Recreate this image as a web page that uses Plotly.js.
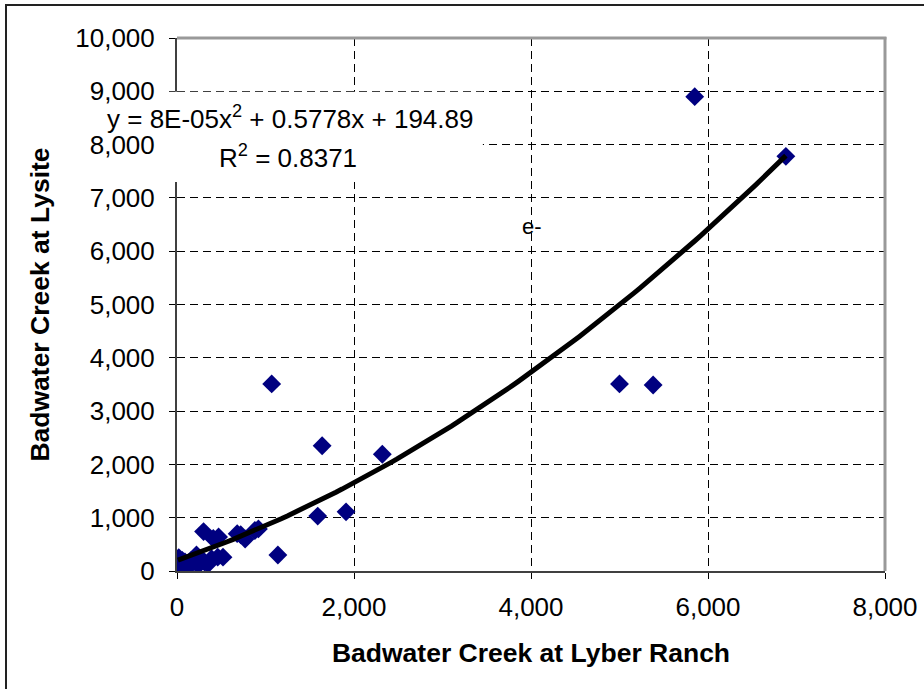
<!DOCTYPE html>
<html>
<head>
<meta charset="utf-8">
<script src="https://cdn.plot.ly/plotly-3.0.1.min.js"></script>
<style>
  html, body { margin: 0; padding: 0; overflow: hidden; background: #fff; }
  #chart { position: absolute; left: 0; top: 0; width: 924px; height: 689px; }
  #frame { position: absolute; left: 5px; top: 4px; width: 1000px; height: 1000px;
           border-left: 2px solid #222; border-top: 2px solid #222; pointer-events: none; }
</style>
</head>
<body>
<div id="chart"></div>
<div id="frame"></div>
<script>
// Badwater Creek at Lyber Ranch (x) vs Badwater Creek at Lysite (y)
const lyberRanch = [5850, 6880, 1070, 5000, 5380, 1640, 2320, 1590, 1910, 1140,
                    300, 410, 470, 680, 720, 770, 880, 920, 460, 390,
                    310, 220, 160, 90, 20, 10, 40, 100, 240, 350,
                    520, 60, 130, 200];
const lysite     = [8900, 7780, 3510, 3510, 3490, 2350, 2190, 1030, 1110, 300,
                    740, 610, 640, 700, 680, 600, 760, 790, 260, 230,
                    170, 300, 200, 170, 250, 60, 30, 110, 110, 130,
                    260, 200, 80, 250];

const xTickVals = [0, 2000, 4000, 6000, 8000];
const yTickVals = [0, 1000, 2000, 3000, 4000, 5000, 6000, 7000, 8000, 9000, 10000];

const equationText = "y = 8E-05x<sup>2</sup> + 0.5778x + 194.89";
const r2Text = "R<sup>2</sup> = 0.8371";
const strayText = "e-";

// Least-squares quadratic trendline fitted to the data
function quadFit(xs, ys) {
  let S = [0,0,0,0,0], T = [0,0,0];
  for (let i = 0; i < xs.length; i++) {
    const x = xs[i], y = ys[i];
    let p = 1;
    for (let k = 0; k < 5; k++) { S[k] += p; if (k < 3) T[k] += p * y; p *= x; }
  }
  const A = [[S[0],S[1],S[2],T[0]],[S[1],S[2],S[3],T[1]],[S[2],S[3],S[4],T[2]]];
  for (let i = 0; i < 3; i++) {
    for (let j = i + 1; j < 3; j++) {
      const f = A[j][i] / A[i][i];
      for (let k = i; k < 4; k++) A[j][k] -= f * A[i][k];
    }
  }
  const c = [0,0,0];
  for (let i = 2; i >= 0; i--) {
    let s = A[i][3];
    for (let k = i + 1; k < 3; k++) s -= A[i][k] * c[k];
    c[i] = s / A[i][i];
  }
  return c;
}
const coef = quadFit(lyberRanch, lysite);
const xMin = Math.min(...lyberRanch), xMax = Math.max(...lyberRanch);
const trendX = [], trendY = [];
for (let i = 0; i <= 100; i++) {
  const x = xMin + (xMax - xMin) * i / 100;
  trendX.push(x);
  trendY.push(coef[0] + coef[1] * x + coef[2] * x * x);
}

const font = "Liberation Sans, Arial, sans-serif";

const data = [
  {
    x: lyberRanch, y: lysite, type: "scatter", mode: "markers",
    marker: { symbol: "diamond", size: 14.5, color: "#000080", line: { width: 0 } },
    hoverinfo: "x+y", showlegend: false
  },
  {
    x: trendX, y: trendY, type: "scatter", mode: "lines",
    line: { color: "#000000", width: 5 },
    hoverinfo: "skip", showlegend: false
  }
];

const layout = {
  width: 924, height: 689,
  margin: { l: 177, r: 39, t: 38, b: 118 },
  paper_bgcolor: "#ffffff", plot_bgcolor: "#ffffff",
  font: { family: font, size: 22, color: "#000" },
  showlegend: false,
  xaxis: {
    range: [0, 8000], tickvals: xTickVals, tickformat: ",",
    showgrid: true, gridcolor: "#000", gridwidth: 1, griddash: "8px,5px",
    zeroline: false, showline: true, linecolor: "#404040", linewidth: 2,
    ticks: "outside", ticklen: 6, tickcolor: "#000", tickwidth: 1,
    ticklabelstandoff: 6,
    tickfont: { family: font, size: 26, color: "#000" },
    title: { text: "<b>Badwater Creek at Lyber Ranch</b>", font: { family: font, size: 26.5, color: "#000" }, standoff: 22 }
  },
  yaxis: {
    range: [0, 10000], tickvals: yTickVals, tickformat: ",",
    showgrid: true, gridcolor: "#000", gridwidth: 1, griddash: "8px,5px",
    zeroline: false, showline: true, linecolor: "#404040", linewidth: 2,
    ticks: "outside", ticklen: 6, tickcolor: "#000", tickwidth: 1,
    ticklabelstandoff: 9,
    tickfont: { family: font, size: 26, color: "#000" },
    title: { text: "<b>Badwater Creek at Lysite</b>", font: { family: font, size: 26.5, color: "#000" }, standoff: 18 }
  },
  shapes: [
    { type: "line", xref: "paper", yref: "paper", x0: 0, x1: 1.002, y0: 1, y1: 1,
      line: { color: "#999", width: 3 }, layer: "above" },
    { type: "line", xref: "paper", yref: "paper", x0: 1, x1: 1, y0: 0, y1: 1.002,
      line: { color: "#999", width: 3 }, layer: "above" },
    { type: "rect", xref: "paper", yref: "paper", x0: -0.027, x1: 0.432, y0: 0.73, y1: 0.899,
      fillcolor: "#fff", line: { width: 0 }, layer: "above" }
  ],
  annotations: [
    { xref: "paper", yref: "paper", x: 0.159, y: 0.85, text: equationText, showarrow: false,
      font: { family: font, size: 26, color: "#000" }, xanchor: "center", yanchor: "middle" },
    { xref: "paper", yref: "paper", x: 0.157, y: 0.777, text: r2Text, showarrow: false,
      font: { family: font, size: 26, color: "#000" }, xanchor: "center", yanchor: "middle" },
    { xref: "paper", yref: "paper", x: 0.501, y: 0.647, text: strayText, showarrow: false,
      font: { family: font, size: 22, color: "#000" }, xanchor: "center", yanchor: "middle" }
  ]
};

Plotly.newPlot("chart", data, layout, { displayModeBar: false, staticPlot: true });
</script>
</body>
</html>
